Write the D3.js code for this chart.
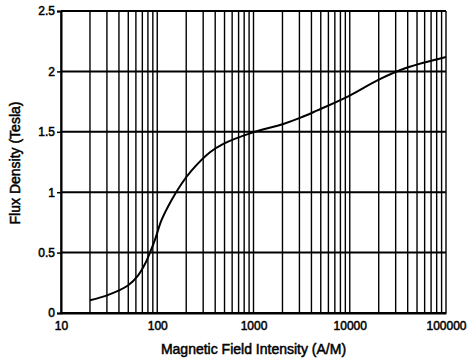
<!DOCTYPE html>
<html>
<head>
<meta charset="utf-8">
<script src="https://cdn.jsdelivr.net/npm/d3@7"></script>
<style>
  body { margin: 0; background: #fff; }
  svg text { font-family: "Liberation Sans", Arial, sans-serif; fill: #000; stroke: #000; stroke-width: 0.5px; }
</style>
</head>
<body>
<div id="vis"></div>
<script>
// magnetization curve
var field = [20, 31, 50, 63, 75, 84, 95, 111, 141, 179, 228, 353, 486, 920, 2040, 3040, 4540, 10000, 19800, 38900, 100000];
var flux = [0.105, 0.15, 0.23, 0.31, 0.41, 0.50, 0.61, 0.77, 0.935, 1.07, 1.18, 1.33, 1.40, 1.487, 1.565, 1.615, 1.675, 1.80, 1.93, 2.03, 2.12];
var yTicks = [0, 0.5, 1, 1.5, 2, 2.5];
var xTicks = [10, 100, 1000, 10000, 100000];

var W = 469, H = 360;
var m = {top: 11, right: 23, bottom: 47, left: 61};

var svg = d3.select("div#vis").append("svg")
    .attr("width", W)
    .attr("height", H);

var x = d3.scaleLog().domain([10, 100000]).range([m.left, W - m.right]);
var y = d3.scaleLinear().domain([0, 2.5]).range([H - m.bottom, m.top]);

// vertical grid, 1..9 per decade
svg.append("g")
    .selectAll("line")
    .data(x.ticks())
  .enter().append("line")
    .attr("x1", function(d) { return x(d); })
    .attr("x2", function(d) { return x(d); })
    .attr("y1", y(0))
    .attr("y2", y(2.5))
    .attr("stroke", "#000")
    .attr("stroke-width", 1.4);

// horizontal grid
svg.append("g")
    .selectAll("line")
    .data(yTicks)
  .enter().append("line")
    .attr("x1", x(10))
    .attr("x2", x(100000))
    .attr("y1", function(d) { return y(d); })
    .attr("y2", function(d) { return y(d); })
    .attr("stroke", "#000")
    .attr("stroke-width", 2);

// y axis
var yAxis = svg.append("g")
    .attr("transform", "translate(" + m.left + ",0)")
    .call(d3.axisLeft(y).tickValues(yTicks).tickSize(4).tickPadding(2)
        .tickFormat(function(d) { return d; }));
yAxis.select(".domain").attr("stroke", "#000").attr("stroke-width", 2);
yAxis.selectAll(".tick line").attr("stroke", "#000").attr("stroke-width", 1.5);
yAxis.selectAll("text").attr("font-size", 12);

// x axis
var xAxis = svg.append("g")
    .attr("transform", "translate(0," + y(0) + ")")
    .call(d3.axisBottom(x).tickValues(xTicks).tickSize(0).tickPadding(8)
        .tickFormat(function(d) { return d; }));
xAxis.select(".domain").attr("stroke", "#000").attr("stroke-width", 2);
xAxis.selectAll("text").attr("font-size", 12);

// curve
var line = d3.line()
    .x(function(d, i) { return x(field[i]); })
    .y(function(d) { return y(d); })
    .curve(d3.curveCatmullRom.alpha(0.5));

svg.append("path")
    .datum(flux)
    .attr("fill", "none")
    .attr("stroke", "#000")
    .attr("stroke-width", 2)
    .attr("d", line);

svg.append("text")
    .attr("x", (x(10) + x(100000)) / 2)
    .attr("y", 354)
    .attr("text-anchor", "middle")
    .attr("font-size", 14)
    .text("Magnetic Field Intensity (A/M)");

svg.append("text")
    .attr("transform", "translate(20," + 163 + ") rotate(-90)")
    .attr("text-anchor", "middle")
    .attr("font-size", 14)
    .text("Flux Density (Tesla)");
</script>
</body>
</html>
